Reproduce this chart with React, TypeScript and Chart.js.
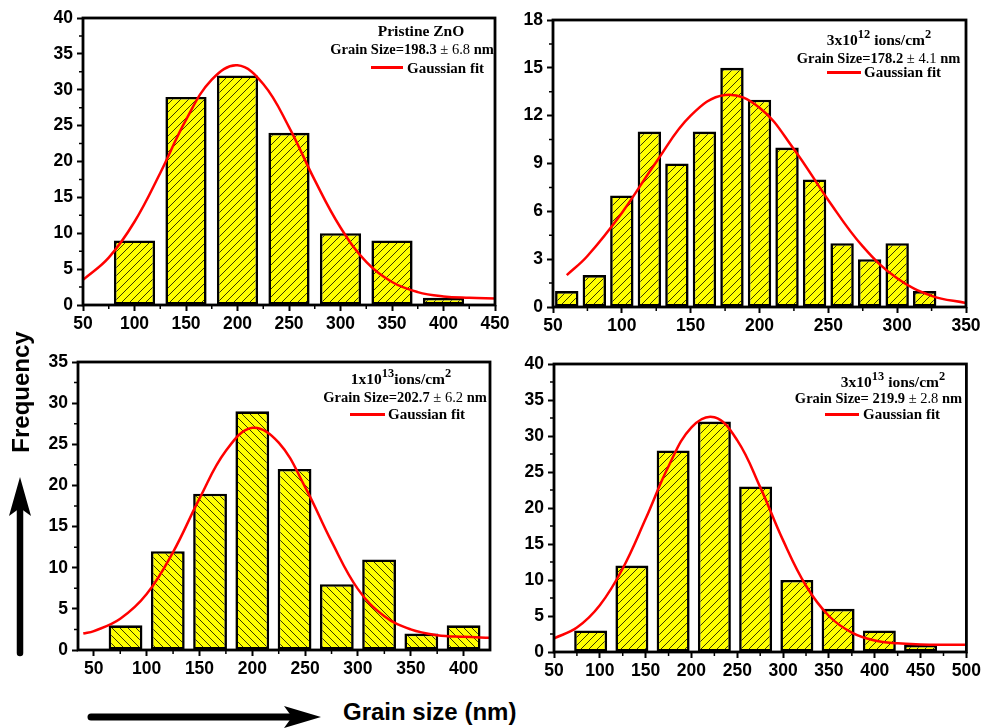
import React, { useEffect, useRef } from "react";
import { Chart, registerables } from "chart.js";

Chart.register(...registerables);

// ---------------- data ----------------
// (a) Pristine ZnO
const pristineBins = [100, 150, 200, 250, 300, 350, 400];
const pristineCounts = [9, 29, 32, 24, 10, 9, 1];
const pristineFitX = [50, 75, 100, 125, 150, 175, 200, 225, 250, 275, 300, 325, 350, 375, 400, 425, 450];
const pristineFitY = [3.5, 6.6, 11.6, 18.4, 25.8, 31.4, 33.4, 30.8, 24.8, 17.4, 10.8, 6.0, 3.2, 1.8, 1.2, 1.0, 0.9];
const pristineXTicks = [50, 100, 150, 200, 250, 300, 350, 400, 450];
const pristineYTicks = [0, 5, 10, 15, 20, 25, 30, 35, 40];

// (b) 3x10^12 ions/cm^2
const dose12Bins = [60, 80, 100, 120, 140, 160, 180, 200, 220, 240, 260, 280, 300, 320];
const dose12Counts = [1, 2, 7, 11, 9, 11, 15, 13, 10, 8, 4, 3, 4, 1];
const dose12FitX = [60, 75, 100, 125, 150, 175, 200, 225, 250, 275, 300, 325, 350];
const dose12FitY = [2.0, 3.2, 5.9, 9.1, 12.0, 13.3, 12.5, 9.9, 6.7, 3.8, 1.8, 0.7, 0.25];
const dose12XTicks = [50, 100, 150, 200, 250, 300, 350];
const dose12YTicks = [0, 3, 6, 9, 12, 15, 18];

// (c) 1x10^13 ions/cm^2
const dose13aBins = [80, 120, 160, 200, 240, 280, 320, 360, 400];
const dose13aCounts = [3, 12, 19, 29, 22, 8, 11, 2, 3];
const dose13aFitX = [40, 50, 75, 100, 125, 150, 175, 200, 225, 250, 275, 300, 325, 350, 375, 400, 425];
const dose13aFitY = [2.0, 2.3, 3.8, 6.8, 11.9, 18.4, 24.2, 27.0, 25.2, 19.8, 13.2, 7.4, 4.1, 2.5, 1.8, 1.6, 1.5];
const dose13aXTicks = [50, 100, 150, 200, 250, 300, 350, 400];
const dose13aYTicks = [0, 5, 10, 15, 20, 25, 30, 35];

// (d) 3x10^13 ions/cm^2
const dose13bBins = [90, 135, 180, 225, 270, 315, 360, 405, 450];
const dose13bCounts = [3, 12, 28, 32, 23, 10, 6, 3, 1];
const dose13bFitX = [50, 75, 100, 125, 150, 175, 200, 225, 250, 275, 300, 325, 350, 375, 400, 425, 450, 475, 500];
const dose13bFitY = [1.9, 3.4, 6.5, 11.6, 18.5, 25.8, 31.2, 32.6, 29.4, 22.9, 15.5, 9.2, 5.0, 2.7, 1.6, 1.2, 1.05, 1.0, 1.0];
const dose13bXTicks = [50, 100, 150, 200, 250, 300, 350, 400, 450, 500];
const dose13bYTicks = [0, 5, 10, 15, 20, 25, 30, 35, 40];

// ---------------- helpers ----------------
type Spec = {
  left: number; top: number; width: number; height: number;
  padTop: number; padRight: number; yWidth: number; xHeight: number;
  xMin: number; xMax: number; xTicks: number[]; yTicks: number[];
  bins: number[]; counts: number[]; barRatio: number; hatch: number;
  fitX: number[]; fitY: number[];
};

function makeHatch(ctx: CanvasRenderingContext2D, dir: number) {
  const s = 8;
  const c = document.createElement("canvas");
  c.width = s;
  c.height = s;
  const g = c.getContext("2d")!;
  g.fillStyle = "#FFFF00";
  g.fillRect(0, 0, s, s);
  g.strokeStyle = "#222200";
  g.lineWidth = 0.9;
  g.beginPath();
  if (dir === 1) {
    g.moveTo(-1, s + 1); g.lineTo(s + 1, -1);
    g.moveTo(-2, 2); g.lineTo(2, -2);
    g.moveTo(s - 2, s + 2); g.lineTo(s + 2, s - 2);
  } else {
    g.moveTo(-1, -1); g.lineTo(s + 1, s + 1);
    g.moveTo(s - 2, -2); g.lineTo(s + 2, 2);
    g.moveTo(-2, s - 2); g.lineTo(2, s + 2);
  }
  g.stroke();
  return ctx.createPattern(c, "repeat");
}

const framePlugin = {
  id: "frame",
  afterDatasetsDraw(chart: any, _args: any, opts: any) {
    const { ctx, chartArea: a, scales } = chart;
    ctx.save();
    ctx.strokeStyle = "#000";
    ctx.lineWidth = 1.5;
    ctx.beginPath();
    for (const v of opts.xMinor || []) {
      const px = scales.x.getPixelForValue(v);
      ctx.moveTo(px, a.bottom);
      ctx.lineTo(px, a.bottom + 4);
    }
    for (const v of opts.yMinor || []) {
      const py = scales.y.getPixelForValue(v);
      ctx.moveTo(a.left, py);
      ctx.lineTo(a.left - 4, py);
    }
    ctx.stroke();
    ctx.lineWidth = 2.8;
    ctx.strokeRect(a.left, a.top, a.right - a.left, a.bottom - a.top);
    ctx.restore();
  },
};

const tickFont = { family: "'Liberation Sans', Arial, sans-serif", size: 17.5, weight: "bold" as const };

function Panel({ spec }: { spec: Spec }) {
  const ref = useRef<HTMLCanvasElement>(null);
  useEffect(() => {
    const canvas = ref.current!;
    const ctx = canvas.getContext("2d")!;
    const pattern = makeHatch(ctx, spec.hatch);
    const xStep = spec.xTicks[1] - spec.xTicks[0];
    const yStep = spec.yTicks[1] - spec.yTicks[0];
    const xMinor = spec.xTicks
      .map((v) => v + xStep / 2)
      .filter((v) => v > spec.xMin && v < spec.xMax);
    const yTop = spec.yTicks[spec.yTicks.length - 1];
    const yMinor = spec.yTicks.map((v) => v + yStep / 2).filter((v) => v < yTop);

    const chart = new Chart(ctx, {
      type: "bar",
      data: {
        datasets: [
          {
            type: "line",
            data: spec.fitX.map((x, i) => ({ x, y: spec.fitY[i] })),
            borderColor: "#FF0000",
            borderWidth: 2.5,
            pointRadius: 0,
            tension: 0.4,
            fill: false,
            order: 1,
          } as any,
          {
            type: "bar",
            data: spec.bins.map((x, i) => ({ x, y: spec.counts[i] })),
            backgroundColor: pattern,
            borderColor: "#000",
            borderWidth: 2.6,
            borderSkipped: false,
            categoryPercentage: 1,
            barPercentage: spec.barRatio,
            order: 2,
          } as any,
        ],
      },
      options: {
        responsive: false,
        animation: false,
        devicePixelRatio: 1,
        layout: { padding: { top: spec.padTop, right: spec.padRight, left: 0, bottom: 0 } },
        plugins: {
          legend: { display: false },
          tooltip: { enabled: false },
          frame: { xMinor, yMinor },
        } as any,
        scales: {
          x: {
            type: "linear",
            min: spec.xMin,
            max: spec.xMax,
            offset: false,
            grid: { drawOnChartArea: false, offset: false, tickLength: 6, tickWidth: 2, tickColor: "#000", color: "#000" },
            border: { display: false },
            ticks: { autoSkip: false, maxRotation: 0, padding: 3, color: "#000", font: tickFont, includeBounds: false, callback: (v: any) => String(v) },
            afterBuildTicks: (s: any) => {
              s.ticks = spec.xTicks.map((v) => ({ value: v }));
            },
            afterFit: (s: any) => {
              s.height = spec.xHeight;
            },
          } as any,
          y: {
            type: "linear",
            min: spec.yTicks[0],
            max: yTop,
            grid: { drawOnChartArea: false, tickLength: 6, tickWidth: 2, tickColor: "#000", color: "#000" },
            border: { display: false },
            ticks: { autoSkip: false, padding: 4, color: "#000", font: tickFont, callback: (v: any) => String(v) },
            afterBuildTicks: (s: any) => {
              s.ticks = spec.yTicks.map((v) => ({ value: v }));
            },
            afterFit: (s: any) => {
              s.width = spec.yWidth;
            },
          } as any,
        },
      },
      plugins: [framePlugin],
    });
    return () => chart.destroy();
  }, []);
  return (
    <canvas
      ref={ref}
      width={spec.width}
      height={spec.height}
      style={{ position: "absolute", left: spec.left, top: spec.top, width: spec.width, height: spec.height, display: "block" }}
    />
  );
}

const panels: Spec[] = [
  {
    left: 0, top: 0, width: 515, height: 340, padTop: 18, padRight: 20, yWidth: 83, xHeight: 35,
    xMin: 50, xMax: 450, xTicks: pristineXTicks, yTicks: pristineYTicks,
    bins: pristineBins, counts: pristineCounts, barRatio: 0.8, hatch: 1,
    fitX: pristineFitX, fitY: pristineFitY,
  },
  {
    left: 490, top: 0, width: 494, height: 340, padTop: 20, padRight: 18, yWidth: 63, xHeight: 33,
    xMin: 50, xMax: 350, xTicks: dose12XTicks, yTicks: dose12YTicks,
    bins: dose12Bins, counts: dose12Counts, barRatio: 0.85, hatch: 1,
    fitX: dose12FitX, fitY: dose12FitY,
  },
  {
    left: 0, top: 340, width: 515, height: 345, padTop: 22, padRight: 25, yWidth: 78, xHeight: 35,
    xMin: 35, xMax: 425, xTicks: dose13aXTicks, yTicks: dose13aYTicks,
    bins: dose13aBins, counts: dose13aCounts, barRatio: 0.8, hatch: -1,
    fitX: dose13aFitX, fitY: dose13aFitY,
  },
  {
    left: 490, top: 340, width: 494, height: 345, padTop: 24, padRight: 16, yWidth: 64, xHeight: 33,
    xMin: 50, xMax: 500, xTicks: dose13bXTicks, yTicks: dose13bYTicks,
    bins: dose13bBins, counts: dose13bCounts, barRatio: 0.8, hatch: 1,
    fitX: dose13bFitX, fitY: dose13bFitY,
  },
];

const serif = "'Liberation Serif', 'Times New Roman', serif";
const sans = "'Liberation Sans', Arial, sans-serif";

function Sup({ children }: { children: React.ReactNode }) {
  return (
    <span style={{ fontSize: "0.8em", position: "relative", top: "-0.6em", verticalAlign: "baseline" }}>{children}</span>
  );
}

function Centered({ cx, cy, size, children }: { cx: number; cy: number; size: number; children: React.ReactNode }) {
  return (
    <div
      style={{
        position: "absolute", left: cx, top: cy, transform: "translate(-50%, -50%)",
        fontFamily: serif, fontWeight: "bold", fontSize: size, lineHeight: 1, whiteSpace: "nowrap", color: "#000",
      }}
    >
      {children}
    </div>
  );
}

function Legend({ x1, x2, y, tx }: { x1: number; x2: number; y: number; tx: number }) {
  return (
    <>
      <div style={{ position: "absolute", left: x1, top: y - 1.5, width: x2 - x1, height: 3, background: "#FF0000" }} />
      <div
        style={{
          position: "absolute", left: tx, top: y, transform: "translateY(-50%)",
          fontFamily: serif, fontWeight: "bold", fontSize: 15, lineHeight: 1, whiteSpace: "nowrap", color: "#000",
        }}
      >
        Gaussian fit
      </div>
    </>
  );
}

function Grain({ cx, cy, main, err }: { cx: number; cy: number; main: string; err: string }) {
  return (
    <Centered cx={cx} cy={cy} size={14.5}>
      {main}
      <span style={{ fontWeight: "normal" }}>{err}</span> nm
    </Centered>
  );
}

export default function App() {
  return (
    <div style={{ position: "absolute", left: 0, top: 0, width: 984, height: 728, background: "#fff", overflow: "hidden" }}>
      {panels.map((p, i) => (
        <Panel key={i} spec={p} />
      ))}

      {/* panel annotations */}
      <Centered cx={421} cy={31} size={15.5}>Pristine ZnO</Centered>
      <Grain cx={412} cy={49} main="Grain Size=198.3 " err="± 6.8" />
      <Legend x1={371} x2={403} y={67.5} tx={407} />

      <Centered cx={879} cy={40} size={15.5}>
        3x10<Sup>12</Sup> ions/cm<Sup>2</Sup>
      </Centered>
      <Grain cx={878.5} cy={57.5} main="Grain Size=178.2 " err="± 4.1" />
      <Legend x1={827} x2={861} y={72} tx={864} />

      <Centered cx={401} cy={379} size={15.5}>
        1x10<Sup>13</Sup>ions/cm<Sup>2</Sup>
      </Centered>
      <Grain cx={405} cy={397} main="Grain Size=202.7 " err="± 6.2" />
      <Legend x1={350} x2={385} y={414} tx={388} />

      <Centered cx={893} cy={382} size={15.5}>
        3x10<Sup>13</Sup> ions/cm<Sup>2</Sup>
      </Centered>
      <Grain cx={878.5} cy={398} main="Grain Size= 219.9 " err="± 2.8" />
      <Legend x1={825} x2={859} y={414} tx={863} />

      {/* axis titles */}
      <div
        style={{
          position: "absolute", left: 21, top: 392, transform: "translate(-50%, -50%) rotate(-90deg)",
          fontFamily: sans, fontWeight: "bold", fontSize: 24, lineHeight: 1, whiteSpace: "nowrap", color: "#000",
        }}
      >
        Frequency
      </div>
      <div
        style={{
          position: "absolute", left: 343, top: 700,
          fontFamily: sans, fontWeight: "bold", fontSize: 24, lineHeight: 1, whiteSpace: "nowrap", color: "#000",
        }}
      >
        Grain size (nm)
      </div>

      <svg width={984} height={728} style={{ position: "absolute", left: 0, top: 0, pointerEvents: "none" }}>
        <line x1={20} y1={508} x2={20} y2={653} stroke="#000" strokeWidth={6.5} strokeLinecap="round" />
        <polygon points="20,477 31,516 20,508 9,516" fill="#000" />
        <line x1={91} y1={717} x2={296} y2={717} stroke="#000" strokeWidth={7} strokeLinecap="round" />
        <polygon points="321,717 284,706 292,717 284,728" fill="#000" />
      </svg>
    </div>
  );
}
